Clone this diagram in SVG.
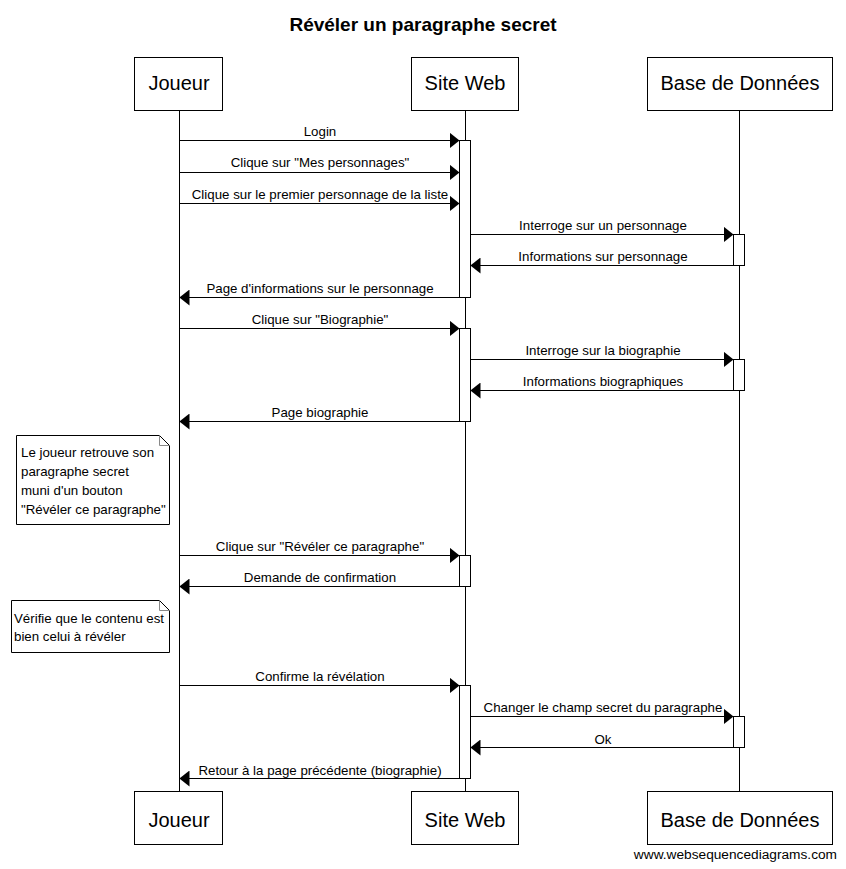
<svg xmlns="http://www.w3.org/2000/svg" width="846" height="869" viewBox="0 0 846 869">
<defs>
<style>
text{font-family:"Liberation Sans",Arial,sans-serif;fill:#000}
.title{font-size:19px;font-weight:bold;text-anchor:middle}
.pname{font-size:20px;text-anchor:middle}
.msg{font-size:13.3px;text-anchor:middle}
.note{font-size:13.3px}
.foot{font-size:13.7px;text-anchor:end}
.box{fill:#fff;stroke:#000;stroke-width:1}
.life{stroke:#000;stroke-width:1}
.act{fill:#fff;stroke:#000;stroke-width:1}
.arr{stroke:#000;stroke-width:1;fill:none}
.nb{fill:#fff;stroke:#000;stroke-width:1}
.fold{fill:none;stroke:#888;stroke-width:1}
</style>
<marker id="ah" viewBox="0 0 10 16" refX="10" refY="8" markerWidth="10" markerHeight="16" markerUnits="userSpaceOnUse" orient="auto">
<path d="M0,0 L10,8 L0,16 Z" fill="#000"/>
</marker>
</defs>
<rect width="846" height="869" fill="#fff"/>
<text class="title" x="423" y="31">Révéler un paragraphe secret</text>

<g id="lifelines">
<line class="life" x1="179.5" y1="110" x2="179.5" y2="791"/>
<line class="life" x1="465.5" y1="110" x2="465.5" y2="791"/>
<line class="life" x1="739.5" y1="110" x2="739.5" y2="791"/>
</g>

<g id="joueur">
<rect class="box" x="134.5" y="57.5" width="88" height="53"/>
<text class="pname" x="179" y="90">Joueur</text>
<rect class="box" x="134.5" y="791.5" width="88" height="53"/>
<text class="pname" x="179" y="827">Joueur</text>
</g>
<g id="siteweb">
<rect class="box" x="411.5" y="57.5" width="107" height="53"/>
<text class="pname" x="465" y="90">Site Web</text>
<rect class="box" x="411.5" y="791.5" width="107" height="53"/>
<text class="pname" x="465" y="827">Site Web</text>
</g>
<g id="basededonnees">
<rect class="box" x="647.5" y="57.5" width="185" height="53"/>
<text class="pname" x="740" y="90">Base de Données</text>
<rect class="box" x="647.5" y="791.5" width="185" height="53"/>
<text class="pname" x="740" y="827">Base de Données</text>
</g>

<g id="activations">
<rect class="act" x="459.5" y="140.5" width="11" height="157"/>
<rect class="act" x="459.5" y="328.5" width="11" height="93"/>
<rect class="act" x="459.5" y="555.5" width="11" height="31"/>
<rect class="act" x="459.5" y="685.5" width="11" height="93"/>
<rect class="act" x="733.5" y="234.5" width="11" height="31"/>
<rect class="act" x="733.5" y="359.5" width="11" height="31"/>
<rect class="act" x="733.5" y="716.5" width="11" height="31"/>
</g>

<g id="connectors">
<line class="arr" x1="179.5" y1="140.5" x2="459.5" y2="140.5" marker-end="url(#ah)"/>
<text class="msg" x="320" y="136">Login</text>
<line class="arr" x1="179.5" y1="172.5" x2="459.5" y2="172.5" marker-end="url(#ah)"/>
<text class="msg" x="320" y="167">Clique sur "Mes personnages"</text>
<line class="arr" x1="179.5" y1="203.5" x2="459.5" y2="203.5" marker-end="url(#ah)"/>
<text class="msg" x="320" y="199">Clique sur le premier personnage de la liste</text>
<line class="arr" x1="470.5" y1="234.5" x2="733.5" y2="234.5" marker-end="url(#ah)"/>
<text class="msg" x="603" y="230">Interroge sur un personnage</text>
<line class="arr" x1="733.5" y1="265.5" x2="470.5" y2="265.5" marker-end="url(#ah)"/>
<text class="msg" x="603" y="261">Informations sur personnage</text>
<line class="arr" x1="459.5" y1="297.5" x2="179.5" y2="297.5" marker-end="url(#ah)"/>
<text class="msg" x="320" y="293">Page d'informations sur le personnage</text>
<line class="arr" x1="179.5" y1="328.5" x2="459.5" y2="328.5" marker-end="url(#ah)"/>
<text class="msg" x="320" y="324">Clique sur "Biographie"</text>
<line class="arr" x1="470.5" y1="359.5" x2="733.5" y2="359.5" marker-end="url(#ah)"/>
<text class="msg" x="603" y="355">Interroge sur la biographie</text>
<line class="arr" x1="733.5" y1="390.5" x2="470.5" y2="390.5" marker-end="url(#ah)"/>
<text class="msg" x="603" y="386">Informations biographiques</text>
<line class="arr" x1="459.5" y1="421.5" x2="179.5" y2="421.5" marker-end="url(#ah)"/>
<text class="msg" x="320" y="417">Page biographie</text>
<line class="arr" x1="179.5" y1="555.5" x2="459.5" y2="555.5" marker-end="url(#ah)"/>
<text class="msg" x="320" y="551">Clique sur "Révéler ce paragraphe"</text>
<line class="arr" x1="459.5" y1="586.5" x2="179.5" y2="586.5" marker-end="url(#ah)"/>
<text class="msg" x="320" y="582">Demande de confirmation</text>
<line class="arr" x1="179.5" y1="685.5" x2="459.5" y2="685.5" marker-end="url(#ah)"/>
<text class="msg" x="320" y="681">Confirme la révélation</text>
<line class="arr" x1="470.5" y1="716.5" x2="733.5" y2="716.5" marker-end="url(#ah)"/>
<text class="msg" x="603" y="712">Changer le champ secret du paragraphe</text>
<line class="arr" x1="733.5" y1="747.5" x2="470.5" y2="747.5" marker-end="url(#ah)"/>
<text class="msg" x="603" y="744">Ok</text>
<line class="arr" x1="459.5" y1="778.5" x2="179.5" y2="778.5" marker-end="url(#ah)"/>
<text class="msg" x="320" y="775">Retour à la page précédente (biographie)</text>
</g>

<g id="note1">
<path class="nb" d="M16.5,435.5 H159.5 L169.5,445.5 V524.5 H16.5 Z"/>
<path class="fold" d="M159.5,435.5 V445.5 H169.5"/>
<text class="note" x="21" y="457">Le joueur retrouve son</text>
<text class="note" x="21" y="476">paragraphe secret</text>
<text class="note" x="21" y="495">muni d'un bouton</text>
<text class="note" x="21" y="514">"Révéler ce paragraphe"</text>
</g>
<g id="note2">
<path class="nb" d="M11.5,600.5 H159.5 L169.5,610.5 V652.5 H11.5 Z"/>
<path class="fold" d="M159.5,600.5 V610.5 H169.5"/>
<text class="note" x="14" y="623">Vérifie que le contenu est</text>
<text class="note" x="14" y="641">bien celui à révéler</text>
</g>

<text class="foot" x="837" y="859">www.websequencediagrams.com</text>
</svg>
